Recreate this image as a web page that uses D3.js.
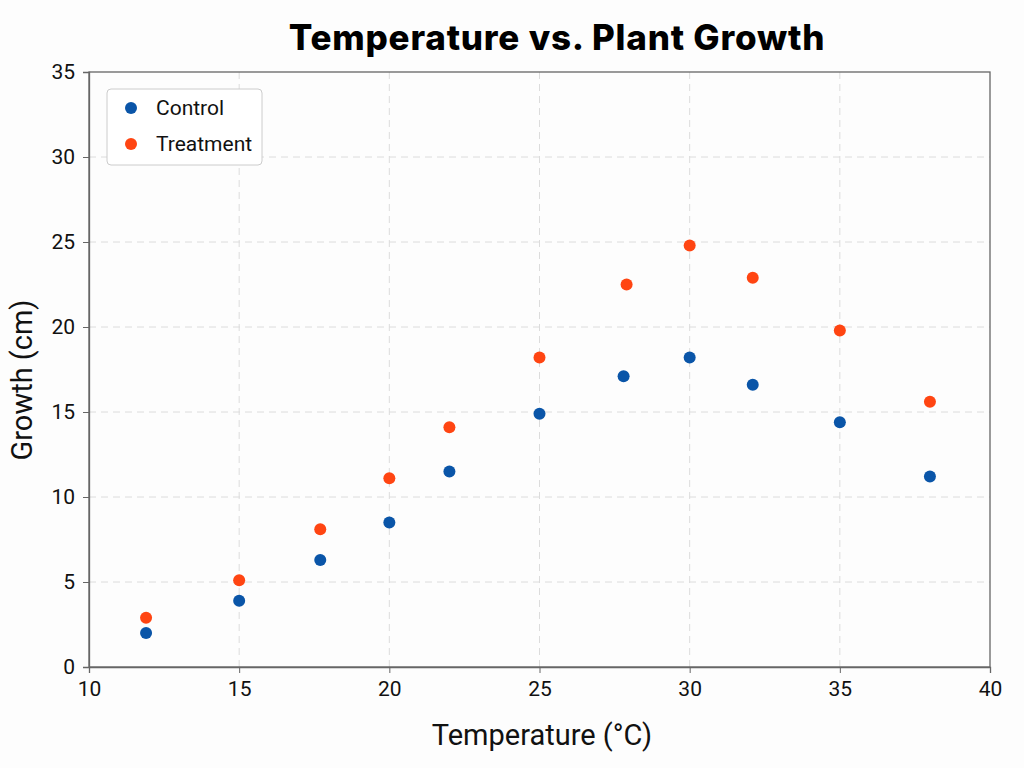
<!DOCTYPE html>
<html>
<head>
<meta charset="utf-8">
<script src="https://cdn.jsdelivr.net/npm/d3@7"></script>
<style>
  body { margin: 0; background: #fdfdfd; }
  svg { font-family: Roboto, "Liberation Sans", sans-serif; }
</style>
</head>
<body>
<div id="chart"></div>
<script>
// data
const controlTemp = [11.9, 15.0, 17.7, 20.0, 22.0, 25.0, 27.8, 30.0, 32.1, 35.0, 38.0];
const controlGrowth = [2.0, 3.9, 6.3, 8.5, 11.5, 14.9, 17.1, 18.2, 16.6, 14.4, 11.2];
const treatTemp = [11.9, 15.0, 17.7, 20.0, 22.0, 25.0, 27.9, 30.0, 32.1, 35.0, 38.0];
const treatGrowth = [2.9, 5.1, 8.1, 11.1, 14.1, 18.2, 22.5, 24.8, 22.9, 19.8, 15.6];
const xTicks = [10, 15, 20, 25, 30, 35, 40];
const yTicks = [0, 5, 10, 15, 20, 25, 30, 35];
const seriesNames = ["Control", "Treatment"];
const colors = ["#0a55a8", "#ff4512"];

const W = 1024, H = 768;
const margin = {top: 72, right: 34, bottom: 101, left: 89},
    width = W - margin.left - margin.right,
    height = H - margin.top - margin.bottom;

const svg = d3.select("#chart")
  .append("svg")
    .attr("width", W)
    .attr("height", H);

svg.append("rect").attr("width", W).attr("height", H).attr("fill", "#fdfdfd");

const g = svg.append("g")
    .attr("transform", "translate(" + margin.left + "," + margin.top + ")");

const x = d3.scaleLinear().domain([10, 40]).range([0, width]);
const y = d3.scaleLinear().domain([0, 35]).range([height, 0]);

// grid
g.append("g").selectAll("line").data(xTicks.slice(1, -1)).join("line")
  .attr("x1", d => x(d)).attr("x2", d => x(d))
  .attr("y1", 0).attr("y2", height)
  .attr("stroke", "#dcdcdc").attr("stroke-dasharray", "7,5");
g.append("g").selectAll("line").data(yTicks.slice(1, -1)).join("line")
  .attr("y1", d => y(d)).attr("y2", d => y(d))
  .attr("x1", 0).attr("x2", width)
  .attr("stroke", "#dcdcdc").attr("stroke-dasharray", "7,5");

// frame
g.append("rect").attr("width", width).attr("height", height)
  .attr("fill", "none").attr("stroke", "#666").attr("stroke-width", 1.3);

// axes
const xAxis = g.append("g")
  .attr("transform", "translate(0," + height + ")")
  .call(d3.axisBottom(x).tickValues(xTicks).tickSize(6).tickPadding(8));
const yAxis = g.append("g")
  .call(d3.axisLeft(y).tickValues(yTicks).tickSize(6).tickPadding(8));
[xAxis, yAxis].forEach(a => {
  a.select(".domain").attr("stroke", "#666").attr("stroke-width", 1.3);
  a.selectAll(".tick line").attr("stroke", "#666");
  a.selectAll("text").attr("font-size", 21).attr("fill", "#111")
    .attr("font-family", "Roboto, sans-serif");
});

// points
const series = [
  {name: seriesNames[0], xs: controlTemp, ys: controlGrowth, color: colors[0]},
  {name: seriesNames[1], xs: treatTemp, ys: treatGrowth, color: colors[1]}
];
series.forEach(s => {
  g.append("g").selectAll("circle").data(s.xs.map((t, i) => [t, s.ys[i]])).join("circle")
    .attr("cx", d => x(d[0])).attr("cy", d => y(d[1]))
    .attr("r", 6).attr("fill", s.color);
});

// legend
const lg = g.append("g").attr("transform", "translate(18,17)");
lg.append("rect").attr("width", 155).attr("height", 76).attr("rx", 4)
  .attr("fill", "#fff").attr("stroke", "#ccc");
series.forEach((s, i) => {
  lg.append("circle").attr("cx", 24).attr("cy", 19 + i * 36).attr("r", 6).attr("fill", s.color);
  lg.append("text").attr("x", 49).attr("y", 19 + i * 36).attr("dy", "0.35em")
    .attr("font-size", 21).attr("fill", "#111").text(s.name);
});

// titles
svg.append("text").attr("x", 557).attr("y", 50).attr("text-anchor", "middle")
  .attr("font-family", "Inter, Roboto, sans-serif")
  .attr("font-size", 35).attr("font-weight", 800).attr("letter-spacing", 0.8)
  .attr("fill", "#000")
  .text("Temperature vs. Plant Growth");
svg.append("text").attr("x", 542).attr("y", 745).attr("text-anchor", "middle")
  .attr("font-size", 29).attr("fill", "#111").text("Temperature (°C)");
svg.append("text").attr("transform", "translate(32,380) rotate(-90)")
  .attr("text-anchor", "middle").attr("font-size", 29).attr("fill", "#111")
  .text("Growth (cm)");
</script>
</body>
</html>
